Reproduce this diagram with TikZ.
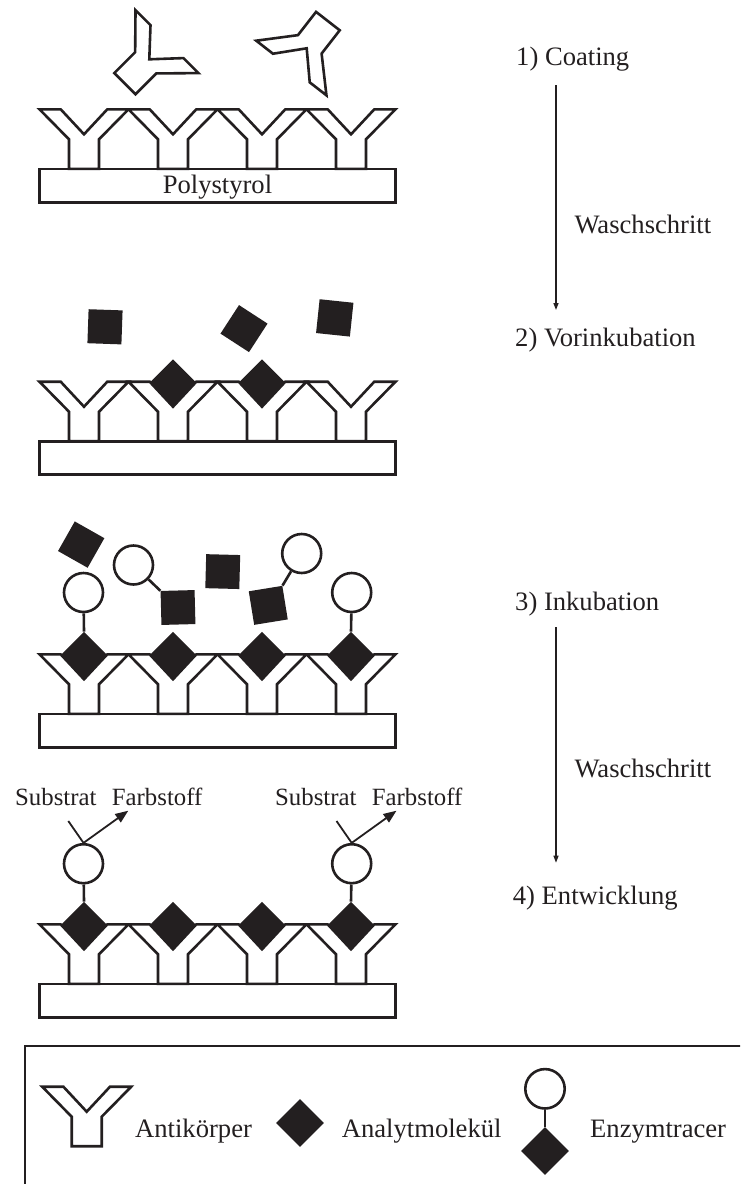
\documentclass[tikz,border=0pt]{standalone}
\usepackage{fontspec}
\setmainfont{Liberation Serif}
\usetikzlibrary{shapes.geometric,arrows.meta}
\definecolor{ink}{RGB}{35,31,32}
\begin{document}
\begin{tikzpicture}[x=1pt,y=-1pt,
  outline/.style={draw=ink,line width=2.6pt,fill=white,line join=miter},
  plate/.style={rectangle,draw=ink,line width=2.6pt,fill=white,inner sep=0pt,minimum width=356pt,minimum height=33.5pt},
  analyte/.style={diamond,aspect=1,fill=ink,inner sep=0pt,minimum width=47pt,minimum height=47pt},
  block/.style={rectangle,fill=ink,inner sep=0pt,minimum size=34pt},
  enzyme/.style={circle,draw=ink,line width=2.6pt,fill=white,inner sep=0pt,minimum size=39pt},
  stick/.style={draw=ink,line width=2.6pt},
  lbl/.style={font=\fontsize{26.6}{30}\selectfont,text=ink,inner sep=0pt,anchor=base west},
  smalllbl/.style={font=\fontsize{24.8}{28}\selectfont,text=ink,inner sep=0pt,anchor=base west},
  wash/.style={draw=ink,line width=1.3pt,-{Triangle[length=7pt,width=5pt]}},
  react/.style={draw=ink,line width=1.8pt},
  antibody/.pic={\path[outline] (-44.5,-25) -- (-23.3,-25) -- (0,0) -- (23.3,-25) -- (44.5,-25)
      -- (15,5) -- (15,34.5) -- (-15,34.5) -- (-15,5) -- cycle;}
]
\useasboundingbox (0,0) rectangle (740,1184);
\clip (0,0) rectangle (740,1184);

% ---------- four coated plates with antibodies ----------
\foreach \p/\yo in {1/109.3,2/381.7,3/654.3,4/924.3}{
  \node[plate] (plate\p) at (217.5,\yo+59.5+16.75) {};
  \foreach \cx in {84,173,262,351}{
    \pic at (\cx,\yo+25) {antibody};
  }
}
\node[lbl,anchor=base] (poly) at (217.5,193.3) {Polystyrol};

% ---------- step 1: free antibodies ----------
\pic[rotate=-45] at (149.3,59.3) {antibody};
\pic[rotate=142.1] at (306.7,48.3) {antibody};

% ---------- step 2: pre-incubation ----------
\node[analyte] (a22) at (173,382.7) {};
\node[analyte] (a23) at (262,382.7) {};
\node[block,rotate=-2] (q2a) at (105,326.8) {};
\node[block,rotate=-33] (q2b) at (244,328.6) {};
\node[block,rotate=-6] (q2c) at (334.75,317.9) {};

% ---------- step 3: incubation ----------
\foreach \i/\cx in {1/84,2/173,3/262,4/351}{
  \node[analyte] (a3\i) at (\cx,655.3) {};
}
\node[enzyme] (e31) at (83.5,592.5) {};
\node[enzyme] (e34) at (351.7,592.5) {};
\draw[stick] (e31) -- (a31.north);
\draw[stick] (e34) -- (a34.north);
\node[block,rotate=-29.5] (q3a) at (81.2,544.6) {};
\node[block,rotate=-1.5] (q3c) at (222.75,571.6) {};
\node[block,rotate=1.5] (q3b) at (178,607.5) {};
\node[enzyme] (ta) at (133.5,565) {};
\draw[stick] (ta) -- (q3b.north west);
\node[block,rotate=9.2] (q3d) at (268.25,605.35) {};
\node[enzyme] (tb) at (301.7,553.5) {};
\draw[stick] (tb) -- (q3d.north east);

% ---------- step 4: development ----------
\foreach \i/\cx in {1/84,2/173,3/262,4/351}{
  \node[analyte] (a4\i) at (\cx,925.3) {};
}
\node[enzyme] (e41) at (83.5,863.7) {};
\node[enzyme] (e44) at (351.7,863.7) {};
\draw[stick] (e41) -- (a41.north);
\draw[stick] (e44) -- (a44.north);
\coordinate (sub1) at (68.3,821);
\coordinate (dye1) at (128.3,810.7);
\coordinate (sub4) at (336.5,821);
\coordinate (dye4) at (396.5,810.7);
\draw[react] (sub1) -- (e41.north);
\draw[react,-{Triangle[length=13pt,width=10pt]}] (e41.north) -- (dye1);
\draw[react] (sub4) -- (e44.north);
\draw[react,-{Triangle[length=13pt,width=10pt]}] (e44.north) -- (dye4);
\node[smalllbl] (s1) at (15,805) {Substrat};
\node[smalllbl] (f1) at (111.7,805) {Farbstoff};
\node[smalllbl] (s4) at (275,805) {Substrat};
\node[smalllbl] (f4) at (371.7,805) {Farbstoff};

% ---------- step labels ----------
\node[lbl] (t1) at (516,65) {1) Coating};
\node[lbl] (w1) at (574.3,233.3) {Waschschritt};
\node[lbl] (t2) at (515,346.7) {2) Vorinkubation};
\node[lbl] (t3) at (515,610) {3) Inkubation};
\node[lbl] (w2) at (574.3,777.3) {Waschschritt};
\node[lbl] (t4) at (512.7,904) {4) Entwicklung};
\coordinate (w1s) at (556,85);
\coordinate (w1e) at (556,310);
\coordinate (w2s) at (556,627.3);
\coordinate (w2e) at (556,862.7);
\draw[wash] (w1s) -- (w1e);
\draw[wash] (w2s) -- (w2e);

% ---------- legend ----------
\draw[draw=ink,line width=2.2pt] (25,1045.7) rectangle (770,1210);
\pic at (86.7,1111.7) {antibody};
\node[lbl] (lab) at (135,1137.5) {Antikörper};
\node[analyte,minimum width=48pt,minimum height=48pt] (lan) at (300,1123) {};
\node[lbl] (lanl) at (341.7,1137.5) {Analytmolekül};
\node[analyte,minimum width=48pt,minimum height=48pt] (lta) at (545,1151) {};
\node[enzyme,minimum size=39.4pt] (lte) at (545,1088.8) {};
\draw[stick] (lte) -- (lta.north);
\node[lbl] (ltl) at (590,1137.5) {Enzymtracer};
\end{tikzpicture}
\end{document}
